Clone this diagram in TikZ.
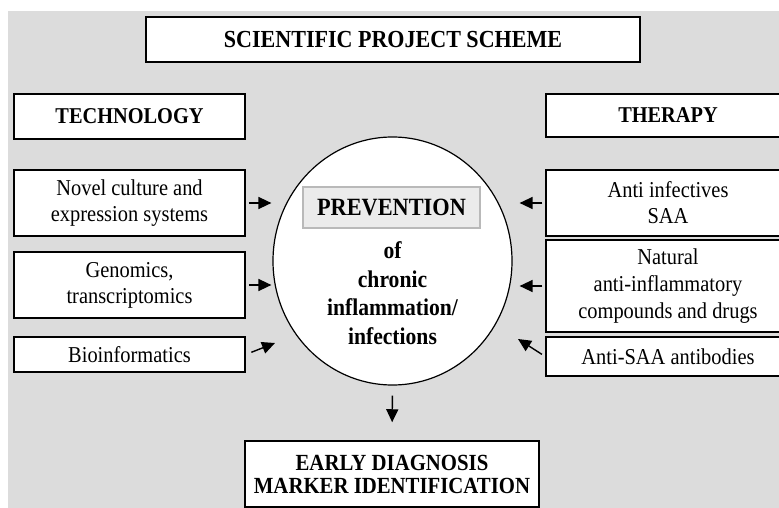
\documentclass[tikz,border=0pt]{standalone}
\usepackage{fontspec}
\setmainfont{Liberation Serif}[FakeStretch=0.9]
\usetikzlibrary{shapes.geometric,arrows.meta}

\definecolor{bggray}{RGB}{220,220,220}
\definecolor{boxgray}{RGB}{235,235,235}
\definecolor{rimgray}{RGB}{185,185,185}

\tikzset{
  box/.style={rectangle,draw,fill=white,line width=1.5pt,inner sep=0pt,
    align=center,font=\fontsize{22.7}{26}\selectfont},
  bbox/.style={box,font=\fontsize{22.6}{23}\selectfont\bfseries},
  arr/.style={-{Triangle[length=13pt,width=12pt]},line width=1.4pt}
}

\begin{document}
\begin{tikzpicture}[x=1pt,y=-1pt]
            \useasboundingbox (0,0) rectangle (779,508);
            \clip (0,0) rectangle (779,508);
            \fill[bggray] (8,11) rectangle (790,515);

            % headings
            \node (title) at (393,39.5) [bbox,minimum width=494pt,minimum height=45pt,font=\fontsize{24.5}{26}\selectfont\bfseries] {SCIENTIFIC PROJECT SCHEME};
            \node (tech) at (129.5,116.5) [bbox,minimum width=231pt,minimum height=45pt] {TECHNOLOGY};
            \node (ther) at (668,115.5) [bbox,minimum width=244pt,minimum height=43pt] {THERAPY};

            % left column
            \node (novel) at (129.5,203) [box,minimum width=231pt,minimum height=66pt] {Novel culture and\\expression systems};
            \node (genom) at (129.5,285) [box,minimum width=231pt,minimum height=66pt] {Genomics,\\transcriptomics};
            \node (bioinf) at (129.5,354.5) [box,minimum width=231pt,minimum height=35pt] {Bioinformatics};

            % right column
            \node (antiinf) at (668,203) [box,minimum width=244pt,minimum height=66pt] {Anti infectives\\SAA};
            \node (natural) at (668,286) [box,minimum width=244pt,minimum height=92pt,font=\fontsize{22.7}{27}\selectfont] {Natural\\anti-inflammatory\\compounds and drugs};
            \node (antisaa) at (668,356.5) [box,minimum width=244pt,minimum height=39pt] {Anti-SAA antibodies};

            % centre
            \node (circ) at (392.5,261) [ellipse,draw,fill=white,line width=1.2pt,minimum width=239pt,minimum height=248pt] {};
            \node (prev) at (391.5,207.5) [rectangle,draw=rimgray,fill=boxgray,line width=1.5pt,minimum width=177pt,minimum height=41pt,font=\fontsize{24.8}{26}\selectfont\bfseries] {PREVENTION};
            \node (chron) at (392.5,293) [align=center,font=\fontsize{24}{28.5}\selectfont\bfseries] {of\\chronic\\inflammation/\\infections};

            \node (early) at (392,474) [bbox,minimum width=294pt,minimum height=66pt,font=\fontsize{23.1}{23}\selectfont\bfseries] {EARLY DIAGNOSIS\\MARKER IDENTIFICATION};

            % arrows
            \coordinate (bioend) at (275,343);
            \coordinate (saaend) at (518,339);
            \draw[arr,shorten <=3pt,shorten >=1pt] (novel.east) -- (novel.east -| circ.west);
            \draw[arr,shorten <=3pt,shorten >=1pt] (genom.east) -- (genom.east -| circ.west);
            \draw[arr,shorten <=6pt] (bioinf.east) -- (bioend);
            \draw[arr,shorten <=3pt,shorten >=7pt] (antiinf.west) -- (antiinf.west -| circ.east);
            \draw[arr,shorten <=3pt,shorten >=7pt] (natural.west) -- (natural.west -| circ.east);
            \draw[arr,shorten <=4pt] (antisaa.west) -- (saaend);
            \draw[arr,shorten <=10pt,shorten >=18pt] (circ.south) -- (early.north);
        \end{tikzpicture}
\end{document}
